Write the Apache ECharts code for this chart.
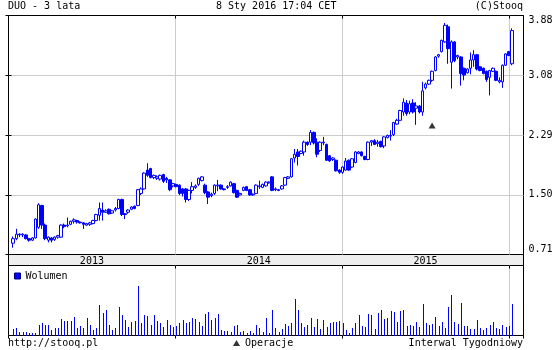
<!DOCTYPE html>
<html><head><meta charset="utf-8">
<script src="https://cdn.jsdelivr.net/npm/echarts@6/dist/echarts.min.js"></script>
<style>html,body{margin:0;padding:0;background:#fff}#c{width:560px;height:350px}</style>
</head><body><div id="c"></div>
<script>
// ---- data ----
const firstWeek = '2013-01-11';
const axisStart = '2013-01-01';
const axisEnd = '2016-02-02';
const opens = [0.86,0.92,0.98,0.97,0.97,0.92,0.90,0.93,1.07,1.36,1.10,0.90,0.93,0.91,0.94,0.94,1.10,1.09,1.11,1.15,1.16,1.14,1.13,1.10,1.11,1.12,1.16,1.23,1.30,1.27,1.31,1.26,1.30,1.32,1.44,1.25,1.27,1.31,1.35,1.36,1.52,1.58,1.83,1.85,1.73,1.72,1.71,1.77,1.72,1.70,1.62,1.64,1.63,1.58,1.58,1.44,1.56,1.60,1.64,1.69,1.63,1.54,1.49,1.52,1.62,1.63,1.58,1.60,1.62,1.65,1.56,1.50,1.56,1.61,1.57,1.50,1.52,1.61,1.60,1.62,1.66,1.74,1.58,1.57,1.58,1.63,1.72,1.74,1.99,2.07,2.05,2.07,2.20,2.20,2.33,2.20,2.09,2.19,2.17,2.02,1.97,1.96,1.83,1.80,1.83,1.96,1.87,1.93,2.05,2.07,2.01,1.97,2.20,2.22,2.18,2.21,2.15,2.26,2.28,2.30,2.44,2.49,2.60,2.72,2.60,2.72,2.65,2.68,2.60,2.92,2.97,3.02,3.15,3.34,3.40,3.53,3.73,3.26,3.53,3.33,3.33,3.18,3.12,3.18,3.29,3.36,3.20,3.18,3.14,3.06,3.14,3.14,3.00,3.00,3.22,3.40,3.24];
const closes = [0.92,0.98,0.97,0.98,0.92,0.90,0.93,1.18,1.37,1.10,0.92,0.94,0.90,0.94,0.96,1.10,1.08,1.10,1.15,1.17,1.14,1.13,1.11,1.12,1.13,1.16,1.24,1.32,1.27,1.29,1.25,1.29,1.32,1.44,1.24,1.24,1.30,1.34,1.32,1.57,1.58,1.79,1.76,1.73,1.76,1.74,1.76,1.68,1.70,1.57,1.65,1.61,1.52,1.52,1.44,1.56,1.61,1.62,1.72,1.74,1.53,1.47,1.51,1.63,1.63,1.58,1.57,1.61,1.67,1.53,1.47,1.52,1.60,1.56,1.50,1.51,1.63,1.62,1.64,1.67,1.67,1.56,1.57,1.56,1.62,1.73,1.74,1.98,2.04,2.01,2.08,2.20,2.17,2.33,2.19,2.04,2.20,2.20,1.96,1.95,1.99,1.82,1.80,1.87,1.95,1.83,1.98,2.07,2.07,2.02,1.97,2.20,2.22,2.17,2.20,2.14,2.27,2.29,2.29,2.46,2.49,2.62,2.73,2.58,2.71,2.60,2.68,2.60,2.88,2.97,3.02,3.14,3.33,3.36,3.55,3.75,3.44,3.53,3.28,3.35,3.11,3.09,3.17,3.29,3.36,3.17,3.15,3.11,3.03,3.15,3.18,3.02,3.02,3.22,3.37,3.35,3.68];
const lows = [0.80,0.90,0.94,0.94,0.91,0.88,0.89,0.92,1.05,1.05,0.90,0.87,0.87,0.89,0.92,0.93,1.06,1.07,1.10,1.12,1.12,1.12,1.05,1.09,1.09,1.11,1.15,1.16,1.16,1.26,1.24,1.25,1.28,1.31,1.22,1.18,1.25,1.30,1.31,1.35,1.50,1.57,1.74,1.72,1.71,1.70,1.69,1.66,1.66,1.55,1.60,1.60,1.50,1.48,1.40,1.42,1.52,1.58,1.62,1.68,1.51,1.38,1.47,1.50,1.55,1.57,1.56,1.58,1.61,1.52,1.46,1.49,1.55,1.55,1.49,1.49,1.51,1.58,1.59,1.61,1.65,1.55,1.55,1.55,1.57,1.62,1.71,1.73,1.93,1.89,2.04,2.02,2.15,2.16,2.17,2.00,2.07,2.16,1.95,1.94,1.95,1.81,1.78,1.78,1.82,1.82,1.86,1.92,2.04,2.01,1.96,1.96,2.15,2.16,2.14,2.13,2.12,2.25,2.22,2.28,2.43,2.48,2.55,2.55,2.57,2.58,2.43,2.58,2.55,2.90,2.96,3.00,3.14,3.32,3.39,3.52,3.24,2.91,3.26,3.30,2.95,3.02,3.11,3.10,3.20,3.15,3.14,3.10,3.00,2.82,3.13,3.01,2.98,2.92,3.21,3.34,3.22];
const highs = [0.95,1.05,0.99,0.99,0.98,0.93,0.94,1.19,1.39,1.37,1.12,0.95,0.94,0.95,0.97,1.11,1.12,1.20,1.16,1.19,1.17,1.15,1.14,1.13,1.14,1.17,1.25,1.40,1.40,1.31,1.32,1.30,1.34,1.45,1.45,1.26,1.31,1.35,1.36,1.58,1.60,1.80,1.92,1.86,1.77,1.76,1.77,1.78,1.74,1.71,1.66,1.65,1.64,1.59,1.59,1.57,1.67,1.64,1.73,1.75,1.65,1.55,1.53,1.64,1.70,1.64,1.59,1.63,1.68,1.66,1.57,1.53,1.61,1.62,1.58,1.52,1.64,1.69,1.65,1.68,1.68,1.75,1.60,1.58,1.63,1.74,1.75,1.99,2.11,2.11,2.09,2.22,2.21,2.36,2.34,2.25,2.21,2.27,2.18,2.03,2.00,1.97,1.84,1.88,1.99,1.97,1.99,2.08,2.08,2.08,2.02,2.21,2.23,2.24,2.23,2.22,2.28,2.30,2.36,2.47,2.51,2.63,2.78,2.76,2.75,2.77,2.73,2.69,3.00,2.99,3.03,3.15,3.34,3.37,3.56,3.78,3.76,3.55,3.54,3.36,3.34,3.19,3.18,3.39,3.42,3.37,3.21,3.19,3.15,3.16,3.19,3.15,3.06,3.23,3.38,3.41,3.71];
const volumes = [7,8,4,4,4,3,3,3,11,13,11,11,6,8,8,17,15,15,15,19,8,10,8,18,11,6,8,31,23,26,11,6,8,29,21,16,9,14,15,50,13,21,20,11,21,15,13,9,16,11,9,10,13,16,13,14,18,17,14,10,22,24,16,18,22,6,5,5,4,10,11,4,5,3,5,3,11,8,4,18,3,26,8,4,7,12,10,13,37,26,13,9,11,18,9,17,7,16,9,13,14,14,15,13,6,3,8,13,21,10,9,22,21,7,23,26,17,18,25,24,14,25,26,10,11,10,14,9,32,13,11,12,19,10,14,8,29,41,14,12,33,10,10,7,7,16,8,6,8,11,14,8,7,11,9,10,32];
const yTickLabels = ['0.71','1.50','2.29','3.08','3.88'];
const yearLabels = ['2013','2014','2015'];
const yearStarts = ['2013-01-01','2014-01-01','2015-01-01'];
const yearEnds = ['2014-01-01','2015-01-01','2016-01-01'];
const eventDates = ['2015-07-17'];
const eventLevels = [2.42];

// ---- build ----
const DAY = 864e5;
const t0 = Date.parse(axisStart);
const dayOf = s => (Date.parse(s) - t0) / DAY;
const x0 = dayOf(firstWeek);
const weekX = closes.map((_, i) => x0 + 7 * i);
const xMax = dayOf(axisEnd);
const yMin = +yTickLabels[0], yMax = +yTickLabels[yTickLabels.length - 1];
const FONT = 'DejaVu Sans Mono';
const txt = {fontFamily: FONT, fontSize: 10, fontWeight: 'normal', color: '#000'};

const G = [
  {left: 8.5, top: 15.5, width: 515, height: 239},
  {left: 8.5, top: 254.5, width: 515, height: 11},
  {left: 8.5, top: 265.5, width: 515, height: 70}
];

function xAx(gi, split) {
  return {
    type: 'value', gridIndex: gi, min: 0, max: xMax, interval: 365, position: 'top',
    axisLine: {show: false}, axisLabel: {show: false},
    axisTick: {show: true, inside: true, length: 3, lineStyle: {color: '#000'}},
    splitLine: {show: split, showMinLine: false, showMaxLine: false, lineStyle: {color: '#cccccc'}}
  };
}

const chart = echarts.init(document.getElementById('c'), null, {renderer: 'canvas'});
chart.setOption({
  animation: false,
  backgroundColor: '#fff',
  title: [
    {text: 'DUO - 3 lata', left: 8, top: 1, padding: 0, textStyle: txt},
    {text: '8 Sty 2016 17:04 CET', left: 216, top: 1, padding: 0, textStyle: txt},
    {text: '(C)Stooq', right: 37, top: 1, padding: 0, textStyle: txt},
    {text: 'http://stooq.pl', left: 8, top: 338, padding: 0, textStyle: txt},
    {text: 'Interwal Tygodniowy', right: 37, top: 338, padding: 0, textStyle: txt}
  ],
  legend: [
    {data: ['Wolumen'], left: 14, top: 271, padding: 0, icon: 'rect', itemWidth: 6, itemHeight: 6,
     selectedMode: false, textStyle: txt, itemStyle: {color: '#0000ff', borderColor: '#000080', borderWidth: 1}},
    {data: ['Operacje'], left: 233, top: 338, padding: 0, icon: 'triangle', itemWidth: 7, itemHeight: 6,
     selectedMode: false, textStyle: txt}
  ],
  grid: G.map(g => Object.assign({show: true, borderColor: '#000', borderWidth: 1, backgroundColor: '#fff', containLabel: false}, g))
    .map((g, i) => i === 1 ? Object.assign(g, {backgroundColor: '#eeeeee'}) : g),
  xAxis: [xAx(0, true), xAx(1, false), xAx(2, true)],
  yAxis: [
    {type: 'value', gridIndex: 0, position: 'right', min: yMin, max: yMax, interval: (yMax - yMin) / 4,
     axisLine: {show: false},
     axisTick: {show: true, inside: true, length: 3, lineStyle: {color: '#000'}},
     splitLine: {show: true, showMinLine: false, showMaxLine: false, lineStyle: {color: '#cccccc'}},
     axisLabel: Object.assign({show: true, margin: 5, verticalAlignMinLabel: 'bottom', verticalAlignMaxLabel: 'top',
       formatter: v => yTickLabels.reduce((a, b) => Math.abs(+b - v) < Math.abs(+a - v) ? b : a)}, txt)},
    {type: 'value', gridIndex: 0, position: 'left', min: yMin, max: yMax, interval: (yMax - yMin) / 4,
     axisLine: {show: false}, axisLabel: {show: false}, splitLine: {show: false},
     axisTick: {show: true, inside: true, length: 3, lineStyle: {color: '#000'}}},
    {type: 'value', gridIndex: 1, min: 0, max: 1, show: false},
    {type: 'value', gridIndex: 2, min: 0, max: 70, show: false}
  ],
  series: [
    {type: 'candlestick', name: 'DUO', xAxisIndex: 0, yAxisIndex: 0,
     data: weekX.map((x, i) => [x, opens[i], closes[i], lows[i], highs[i]]),
     encode: {x: 0, y: [1, 2, 3, 4]},
     barWidth: 3,
     itemStyle: {color: '#ffffff', color0: '#0000ff', borderColor: '#0000ff', borderColor0: '#0000ff', borderColorDoji: '#0000ff', borderWidth: 1}},
    {type: 'scatter', name: 'Operacje', xAxisIndex: 0, yAxisIndex: 0,
     data: eventDates.map((d, i) => [dayOf(d), eventLevels[i]]),
     symbol: 'triangle', symbolSize: [7, 6], itemStyle: {color: '#000'}},
    {type: 'custom', name: 'years', xAxisIndex: 1, yAxisIndex: 2,
     data: yearLabels.map((y, i) => [dayOf(yearStarts[i]), dayOf(yearEnds[i])]),
     encode: {x: [0, 1]},
     renderItem: (params, api) => {
       const p = api.coord([(api.value(0) + api.value(1)) / 2, 0.5]);
       return {type: 'text', x: p[0], y: p[1] + 1,
         style: {text: yearLabels[params.dataIndex], fill: '#000', font: '10px "DejaVu Sans Mono"', align: 'center', verticalAlign: 'middle'}};
     }},
    {type: 'custom', name: 'Wolumen', xAxisIndex: 2, yAxisIndex: 3,
     data: weekX.map((x, i) => [x, volumes[i]]),
     encode: {x: 0, y: 1},
     itemStyle: {color: '#0000ff'},
     renderItem: (params, api) => {
       const top = api.coord([api.value(0), api.value(1)]);
       const base = api.coord([api.value(0), 0]);
       const x = Math.round(top[0]);
       return {type: 'rect', shape: {x: x, y: Math.round(top[1]), width: 1, height: Math.round(base[1]) - Math.round(top[1])},
         style: {fill: '#0000ff'}};
     }}
  ]
});
</script></body></html>
